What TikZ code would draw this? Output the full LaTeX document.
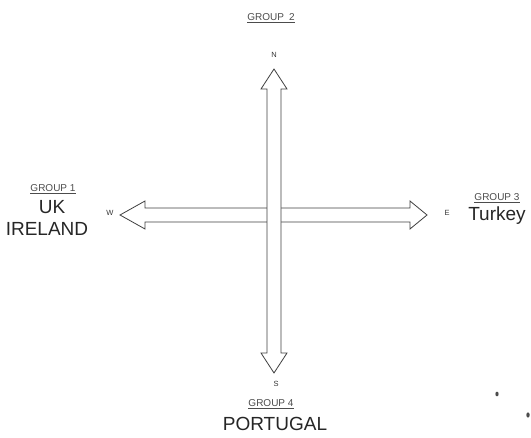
\documentclass[tikz,border=0pt]{standalone}
\usepackage{fontspec}
\setmainfont{Liberation Sans}
\usepackage{tikz}
\usetikzlibrary{positioning, calc}

\tikzset{
  grouplabel/.style={font=\fontsize{10}{11}\selectfont, text=black!70, inner sep=0pt},
  countrylabel/.style={font=\fontsize{19}{20}\selectfont, text=black!85, inner sep=0pt},
  pointlabel/.style={font=\fontsize{7.5}{8}\selectfont, text=black!80, inner sep=0pt},
  blockarrow/.style={draw=black!75, fill=white, line width=0.8pt, line join=miter}
}

\begin{document}
\begin{tikzpicture}[x=1pt, y=-1pt]
    \useasboundingbox (0,0) rectangle (531,438);

    % Arrow tips
    \coordinate (wtip) at (120,215);
    \coordinate (etip) at (427,215);
    \coordinate (ntip) at (274,69);
    \coordinate (stip) at (274,373);

    % East-west arrow
    \draw[blockarrow] (wtip) -- ++(25,-14) -- ++(0,7) -- ($(etip)+(-17,-7)$) -- ++(0,-7)
        -- (etip) -- ++(-17,14) -- ++(0,-7) -- ($(wtip)+(25,7)$) -- ++(0,7) -- cycle;

    % North-south arrow
    \draw[blockarrow] (ntip) -- ++(13,20) -- ++(-6,0) -- ($(stip)+(7,-20)$) -- ++(6,0)
        -- (stip) -- ++(-13,-20) -- ++(6,0) -- ($(ntip)+(-7,20)$) -- ++(-6,0) -- cycle;

    % Compass points
    \node[pointlabel] (west) at (110,213) {W};
    \node[pointlabel] (east) at (447,213) {E};
    \node[pointlabel] (north) at (274,55) {N};
    \node[pointlabel] (south) at (276,384) {S};

    % Groups
    \node[grouplabel] (group1) at (53,189) {\underline{GROUP 1}};
    \node[countrylabel] (uk) at (52,207) {UK};
    \node[countrylabel] (ireland) at (47,229) {IRELAND};

    \node[grouplabel] (group2) at (271,18) {\underline{GROUP\enspace 2}};

    \node[grouplabel] (group3) at (497,198) {\underline{GROUP 3}};
    \node[countrylabel] (turkey) at (497,216) {Turkey};

    \node[grouplabel] (group4) at (271,404) {\underline{GROUP 4}};
    \node[countrylabel] (portugal) at (275,424) {PORTUGAL};

    % Specks
    \fill[black!70] (497,394) ellipse (1.6 and 2.4);
    \fill[black!70] (528,415) ellipse (1.7 and 2.6);
\end{tikzpicture}
\end{document}
